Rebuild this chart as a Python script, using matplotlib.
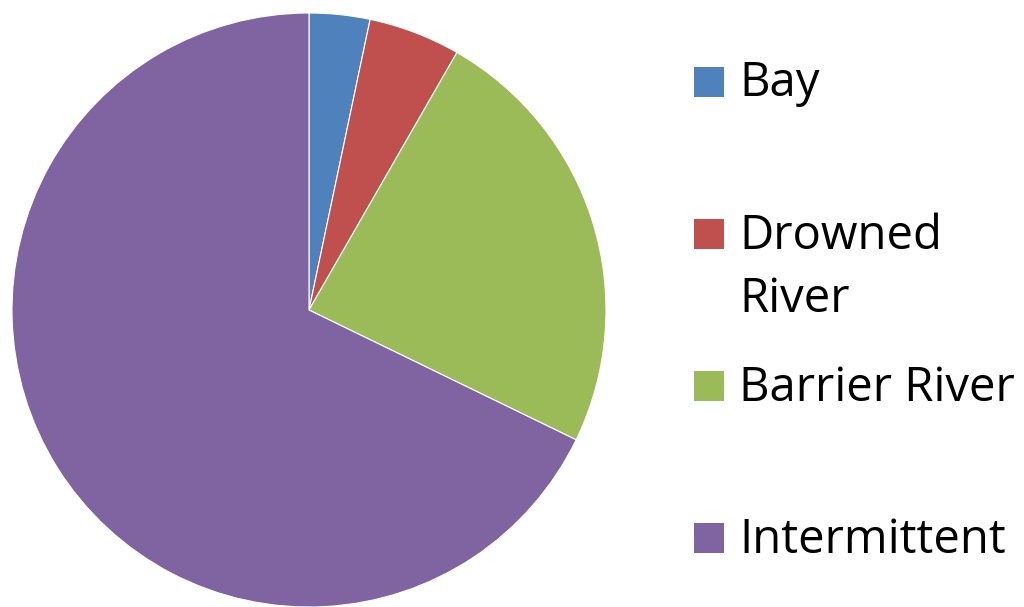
import matplotlib
matplotlib.use("Agg")
import matplotlib.pyplot as plt
from matplotlib.patches import Rectangle

categories = ["Bay", "Drowned\nRiver", "Barrier River", "Intermittent"]
values = [3.3, 5.0, 23.9, 67.8]
colors = ["#4F81BD", "#C0504D", "#9BBB59", "#8064A2"]

W, H = 1024, 607
fig = plt.figure(figsize=(W / 100, H / 100), dpi=100)

cx, cy, r = 309, 310, 297
ax = fig.add_axes([(cx - r) / W, (H - cy - r) / H, 2 * r / W, 2 * r / H])
ax.pie(values, colors=colors, startangle=90, counterclock=False, radius=1,
       wedgeprops=dict(edgecolor="white", linewidth=0.8))
ax.set_xlim(-1, 1)
ax.set_ylim(-1, 1)
ax.set_aspect("equal")
ax.axis("off")

# legend (manual placement)
square_y = [82, 234, 386, 538]   # square centres (px from top)
text_y = [83, 268, 388, 540]     # text centres
for lab, col, sy, ty in zip(categories, colors, square_y, text_y):
    fig.patches.append(Rectangle((694 / W, (H - sy - 15) / H), 30 / W, 30 / H,
                                 transform=fig.transFigure, facecolor=col,
                                 edgecolor="none"))
    fig.text(739 / W, (H - ty) / H, lab, fontsize=34, family="Open Sans",
             va="center", ha="left", color="black", linespacing=1.42)

fig.savefig("out.png", dpi=100)
